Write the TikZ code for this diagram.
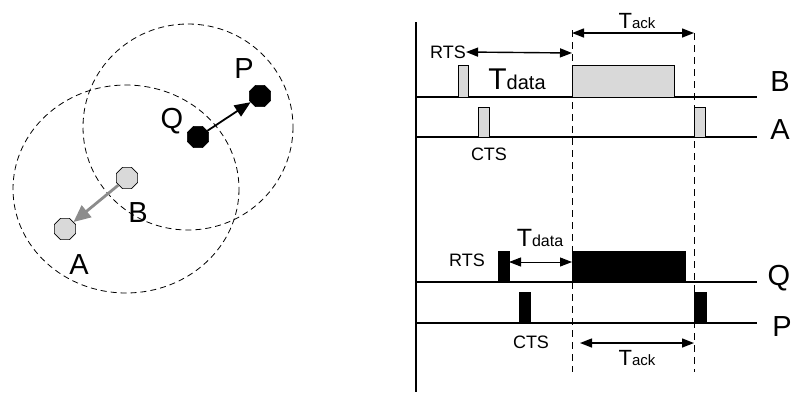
\documentclass[tikz,border=0pt]{standalone}
\usepackage{fontspec}
\setmainfont{Liberation Sans}
\usetikzlibrary{arrows.meta}
\usetikzlibrary{shapes.geometric}

\definecolor{pale}{gray}{0.85}
\definecolor{rangegray}{gray}{0.55}

\tikzset{
    station/.style={regular polygon, regular polygon sides=8, draw, line width=0.7pt,
        minimum size=23pt, inner sep=0pt},
    zone/.style={dash pattern=on 6pt off 4pt, line width=0.8pt},
    marker/.style={dash pattern=on 7pt off 5pt, line width=1pt},
    pulse/.style={draw, line width=0.9pt},
    span/.style={line width=1.4pt, {Triangle[length=12pt,width=9pt]}-{Triangle[length=12pt,width=9pt]}},
    big/.style={font=\fontsize{29}{29}\selectfont, inner sep=0pt},
    small/.style={font=\fontsize{18}{18}\selectfont, inner sep=0pt},
}
\newcommand{\tlabel}[3]{{\fontsize{#1}{#1}\selectfont T}{\fontsize{#2}{#2}\selectfont #3}}

\begin{document}
\begin{tikzpicture}[x=1pt, y=-1pt]
    \useasboundingbox (0,0) rectangle (796,392);
    % transmission ranges
    \draw [zone] (126,189) ellipse [x radius=113, y radius=104];
    \draw [zone] (188,127) ellipse [x radius=105, y radius=103];
    % stations
    \node [station, fill=black] (P) at (260,96) {};
    \node [station, fill=black] (Q) at (198,137) {};
    \node [station, fill=pale] (B) at (127,178) {};
    \node [station, fill=pale] (A) at (65,229) {};
    \draw [line width=1.8pt, -{Triangle[length=16pt,width=13pt]}] (Q) -- (P);
    \draw [rangegray, line width=2.8pt, -{Triangle[length=17pt,width=15pt]}] (B) -- (A);
    \node [big] (lP) at (244,69) {P};
    \node [big] (lQ) at (172,121) {Q};
    \node [big] (lB) at (138,213) {B};
    \node [big] (lA) at (79,265) {A};

    % time axis
    \coordinate (t0) at (416,22);
    \coordinate (t1) at (416,392);
    \draw [line width=1.2pt] (t0) -- (t1);
    \coordinate (b0) at (416,97);  \coordinate (b1) at (757,97);
    \coordinate (a0) at (416,137); \coordinate (a1) at (757,137);
    \coordinate (q0) at (416,282); \coordinate (q1) at (757,282);
    \coordinate (p0) at (416,323); \coordinate (p1) at (757,323);
    \draw [line width=1.2pt] (b0) -- (b1);
    \draw [line width=1.2pt] (a0) -- (a1);
    \draw [line width=1.2pt] (q0) -- (q1);
    \draw [line width=1.2pt] (p0) -- (p1);
    \node [big] (nB) at (780,82) {B};
    \node [big] (nA) at (780,130) {A};
    \node [big] (nQ) at (779,278) {Q};
    \node [big] (nP) at (782,327) {P};

    % data start / end
    \coordinate (d0) at (572,30);  \coordinate (d1) at (572,372);
    \coordinate (k0) at (694,33);  \coordinate (k1) at (694,372);
    \draw [marker] (d0) -- (d1);
    \draw [marker] (k0) -- (k1);

    % exchange B -> A (gray)
    \draw [pulse, fill=pale] (458,97) rectangle (468,65);
    \draw [pulse, fill=pale] (478,137) rectangle (489,107);
    \draw [pulse, fill=pale] (572,97) rectangle (674,65);
    \draw [pulse, fill=pale] (694,137) rectangle (705,107);
    \node [small] (rts1) at (448,52) {RTS};
    \node [small] (cts1) at (489,154) {CTS};
    \coordinate (u0) at (572,53);
    \draw [span] (rts1.east) -- (u0);
    \node [inner sep=0pt] (td1) at (517,79) {\tlabel{30}{20}{data}};
    \coordinate (v0) at (572,33); \coordinate (v1) at (694,33);
    \draw [span] (v0) -- (v1);
    \node [inner sep=0pt] (ta1) at (637,21) {\tlabel{22}{15}{ack}};

    % exchange Q -> P (black)
    \draw [pulse, fill=black] (498,282) rectangle (509,251);
    \draw [pulse, fill=black] (519,323) rectangle (530,292);
    \draw [pulse, fill=black] (572,282) rectangle (685,251);
    \draw [pulse, fill=black] (694,323) rectangle (706,292);
    \node [small] (rts2) at (467,260) {RTS};
    \node [small] (cts2) at (531,342) {CTS};
    \coordinate (s0) at (509,262); \coordinate (s1) at (572,262);
    \draw [span, line width=1pt] (s0) -- (s1);
    \node [inner sep=0pt] (td2) at (540,238) {\tlabel{25}{16}{data}};
    \coordinate (e0) at (580,343); \coordinate (e1) at (694,343);
    \draw [span] (e0) -- (e1);
    \node [inner sep=0pt] (ta2) at (637,358) {\tlabel{22}{15}{ack}};
\end{tikzpicture}
\end{document}
